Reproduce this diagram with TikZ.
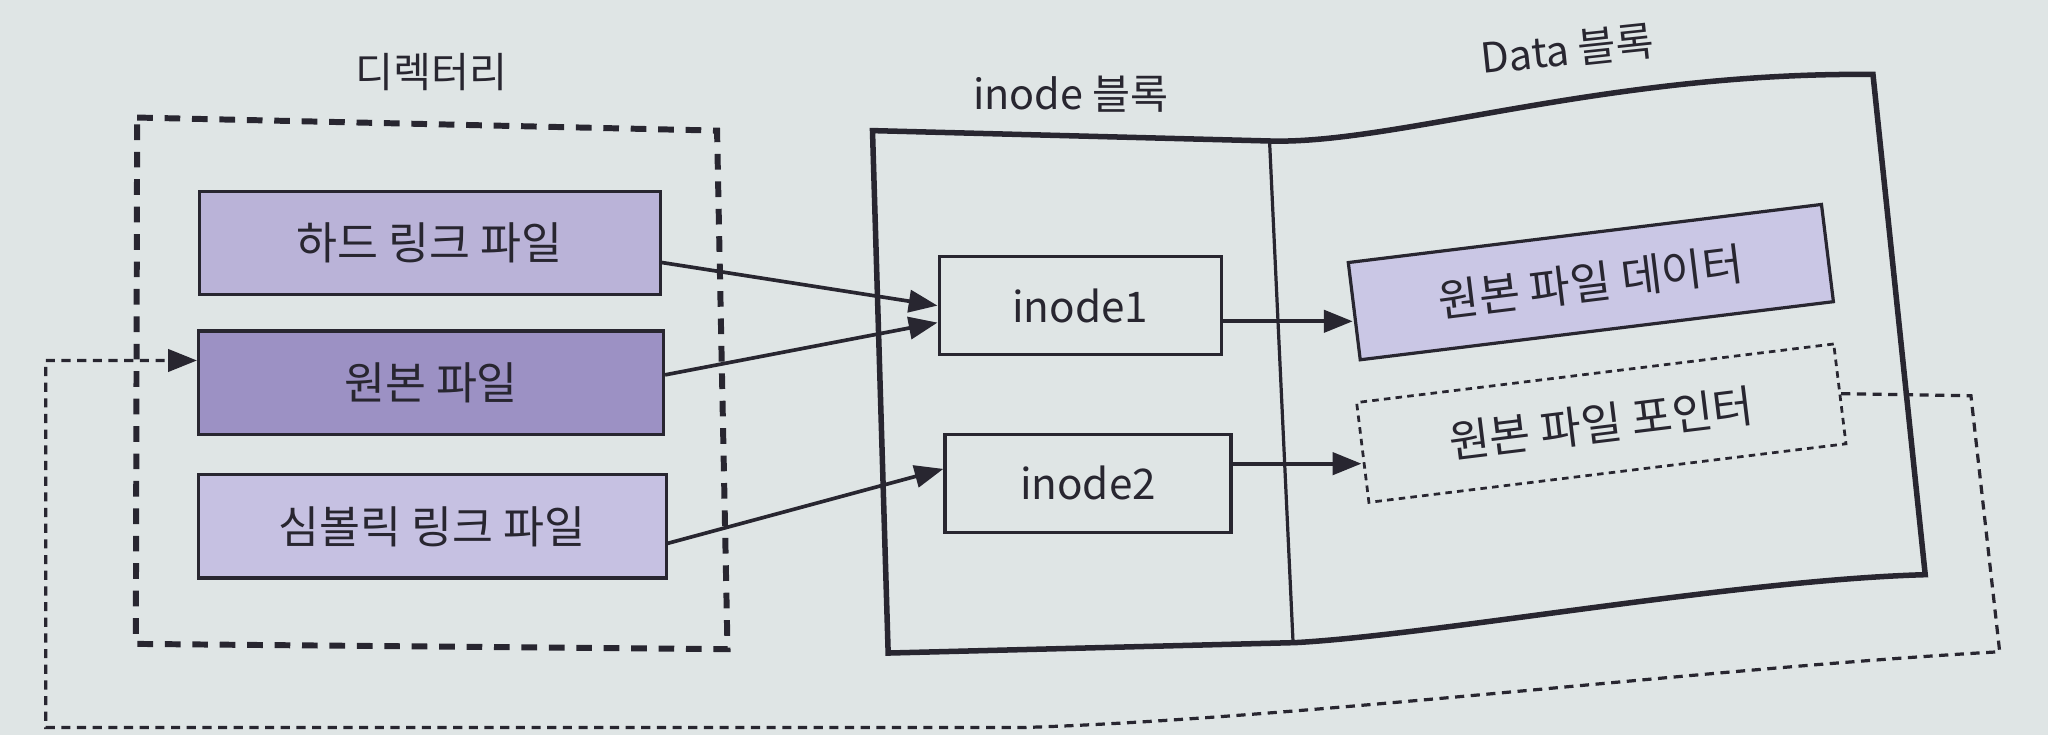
\documentclass[tikz,border=0pt]{standalone}
\usepackage{fontspec}
\setmainfont{Noto Sans CJK KR}
\usepackage{tikz}
\usetikzlibrary{positioning, arrows.meta}

\definecolor{paper}{RGB}{223,229,229}
\definecolor{ink}{RGB}{40,38,48}
\definecolor{linkfill}{RGB}{186,179,216}
\definecolor{origfill}{RGB}{156,145,196}
\definecolor{symfill}{RGB}{198,193,226}
\definecolor{datafill}{RGB}{202,199,229}

\begin{document}
\begin{tikzpicture}[
    x=0.1mm, y=-0.1mm,
    filebox/.style={
        rectangle,
        draw=ink,
        line width=0.7pt,
        fill=#1,
        minimum height=7.9mm,
        align=center,
        text=ink,
        font=\fontsize{9.7}{12}\selectfont,
        inner sep=1pt
    },
    inodebox/.style={
        rectangle,
        draw=ink,
        line width=0.7pt,
        minimum width=21.6mm,
        minimum height=7.5mm,
        text=ink,
        font=\fontsize{9.2}{11}\selectfont
    },
    title/.style={
        text=ink,
        font=\fontsize{9}{11}\selectfont
    },
    arr/.style={
        draw=ink,
        line width=0.8pt,
        -{Triangle[length=2.2mm,width=1.7mm]}
    }
]

\useasboundingbox (0,0) rectangle (1568,563);
\fill[paper] (0,0) rectangle (1568,563);

% --- directory ---
\node[title] (dirlabel) at (330,55) {디렉터리};
\draw[ink, line width=1.3pt, dash pattern=on 1.2mm off 0.9mm]
    (105,90) -- (549,100) -- (557,497) -- (104,493) -- cycle;

\node[filebox=linkfill, minimum width=35.3mm] (hard) at (329,186) {하드 링크 파일};
\node[filebox=origfill, minimum width=35.6mm] (orig) at (330,293) {원본 파일};
\node[filebox=symfill, minimum width=35.8mm] (sym) at (331,403) {심볼릭 링크 파일};

% --- inode block / data block ---
\node[title] (inodelabel) at (820,72) {inode 블록};
\node[title, rotate=6] (datalabel) at (1200,38) {Data 블록};

\draw[ink, line width=1.2pt] (668,100) -- (974,108)
    .. controls (1070,110) and (1230,55) .. (1434,57)
    -- (1474,440)
    .. controls (1330,444) and (1100,486) .. (992,492)
    -- (680,500) -- cycle;
\draw[ink, line width=0.7pt] (972,108) -- (990,492);

\node[inodebox] (ino1) at (827,234) {inode1};
\node[inodebox, minimum width=21.9mm] (ino2) at (833,370) {inode2};

\node[filebox=datafill, minimum width=36.5mm, minimum height=7.5mm, rotate=7] (data) at (1218,216) {원본 파일 데이터};
\node[filebox=paper, draw=ink, line width=0.6pt, dash pattern=on 0.5mm off 0.4mm,
      minimum width=36.8mm, minimum height=7.7mm, rotate=7] (ptr) at (1226,324) {원본 파일 포인터};

% --- links ---
\draw[arr] ([yshift=-1.5mm]hard.east) -- (ino1.west);
\draw[arr] ([yshift=0.6mm]orig.east) -- ([yshift=-1.3mm]ino1.west);
\draw[arr] ([yshift=-1.3mm]sym.east) -- ([yshift=1.1mm]ino2.west);

\draw[arr] ([yshift=-1.2mm]ino1.east) -- ([yshift=-1.2mm]ino1.east -| data.west);
\draw[arr] ([yshift=1.5mm]ino2.east) -- ([yshift=1.5mm]ino2.east -| ptr.west);

% --- pointer back to the original file ---
\coordinate (bendA) at (1509,303);
\coordinate (bendB) at (1531,499);
\coordinate (bendC) at (784,557);
\coordinate (bendD) at (35,557);
\draw[arr, line width=0.7pt, dash pattern=on 0.7mm off 0.5mm]
    (ptr.east) -- (bendA) -- (bendB)
    .. controls (1300,512) and (1000,550) .. (bendC)
    -- (bendD) |- ([yshift=1.7mm]orig.west);

\end{tikzpicture}
\end{document}
